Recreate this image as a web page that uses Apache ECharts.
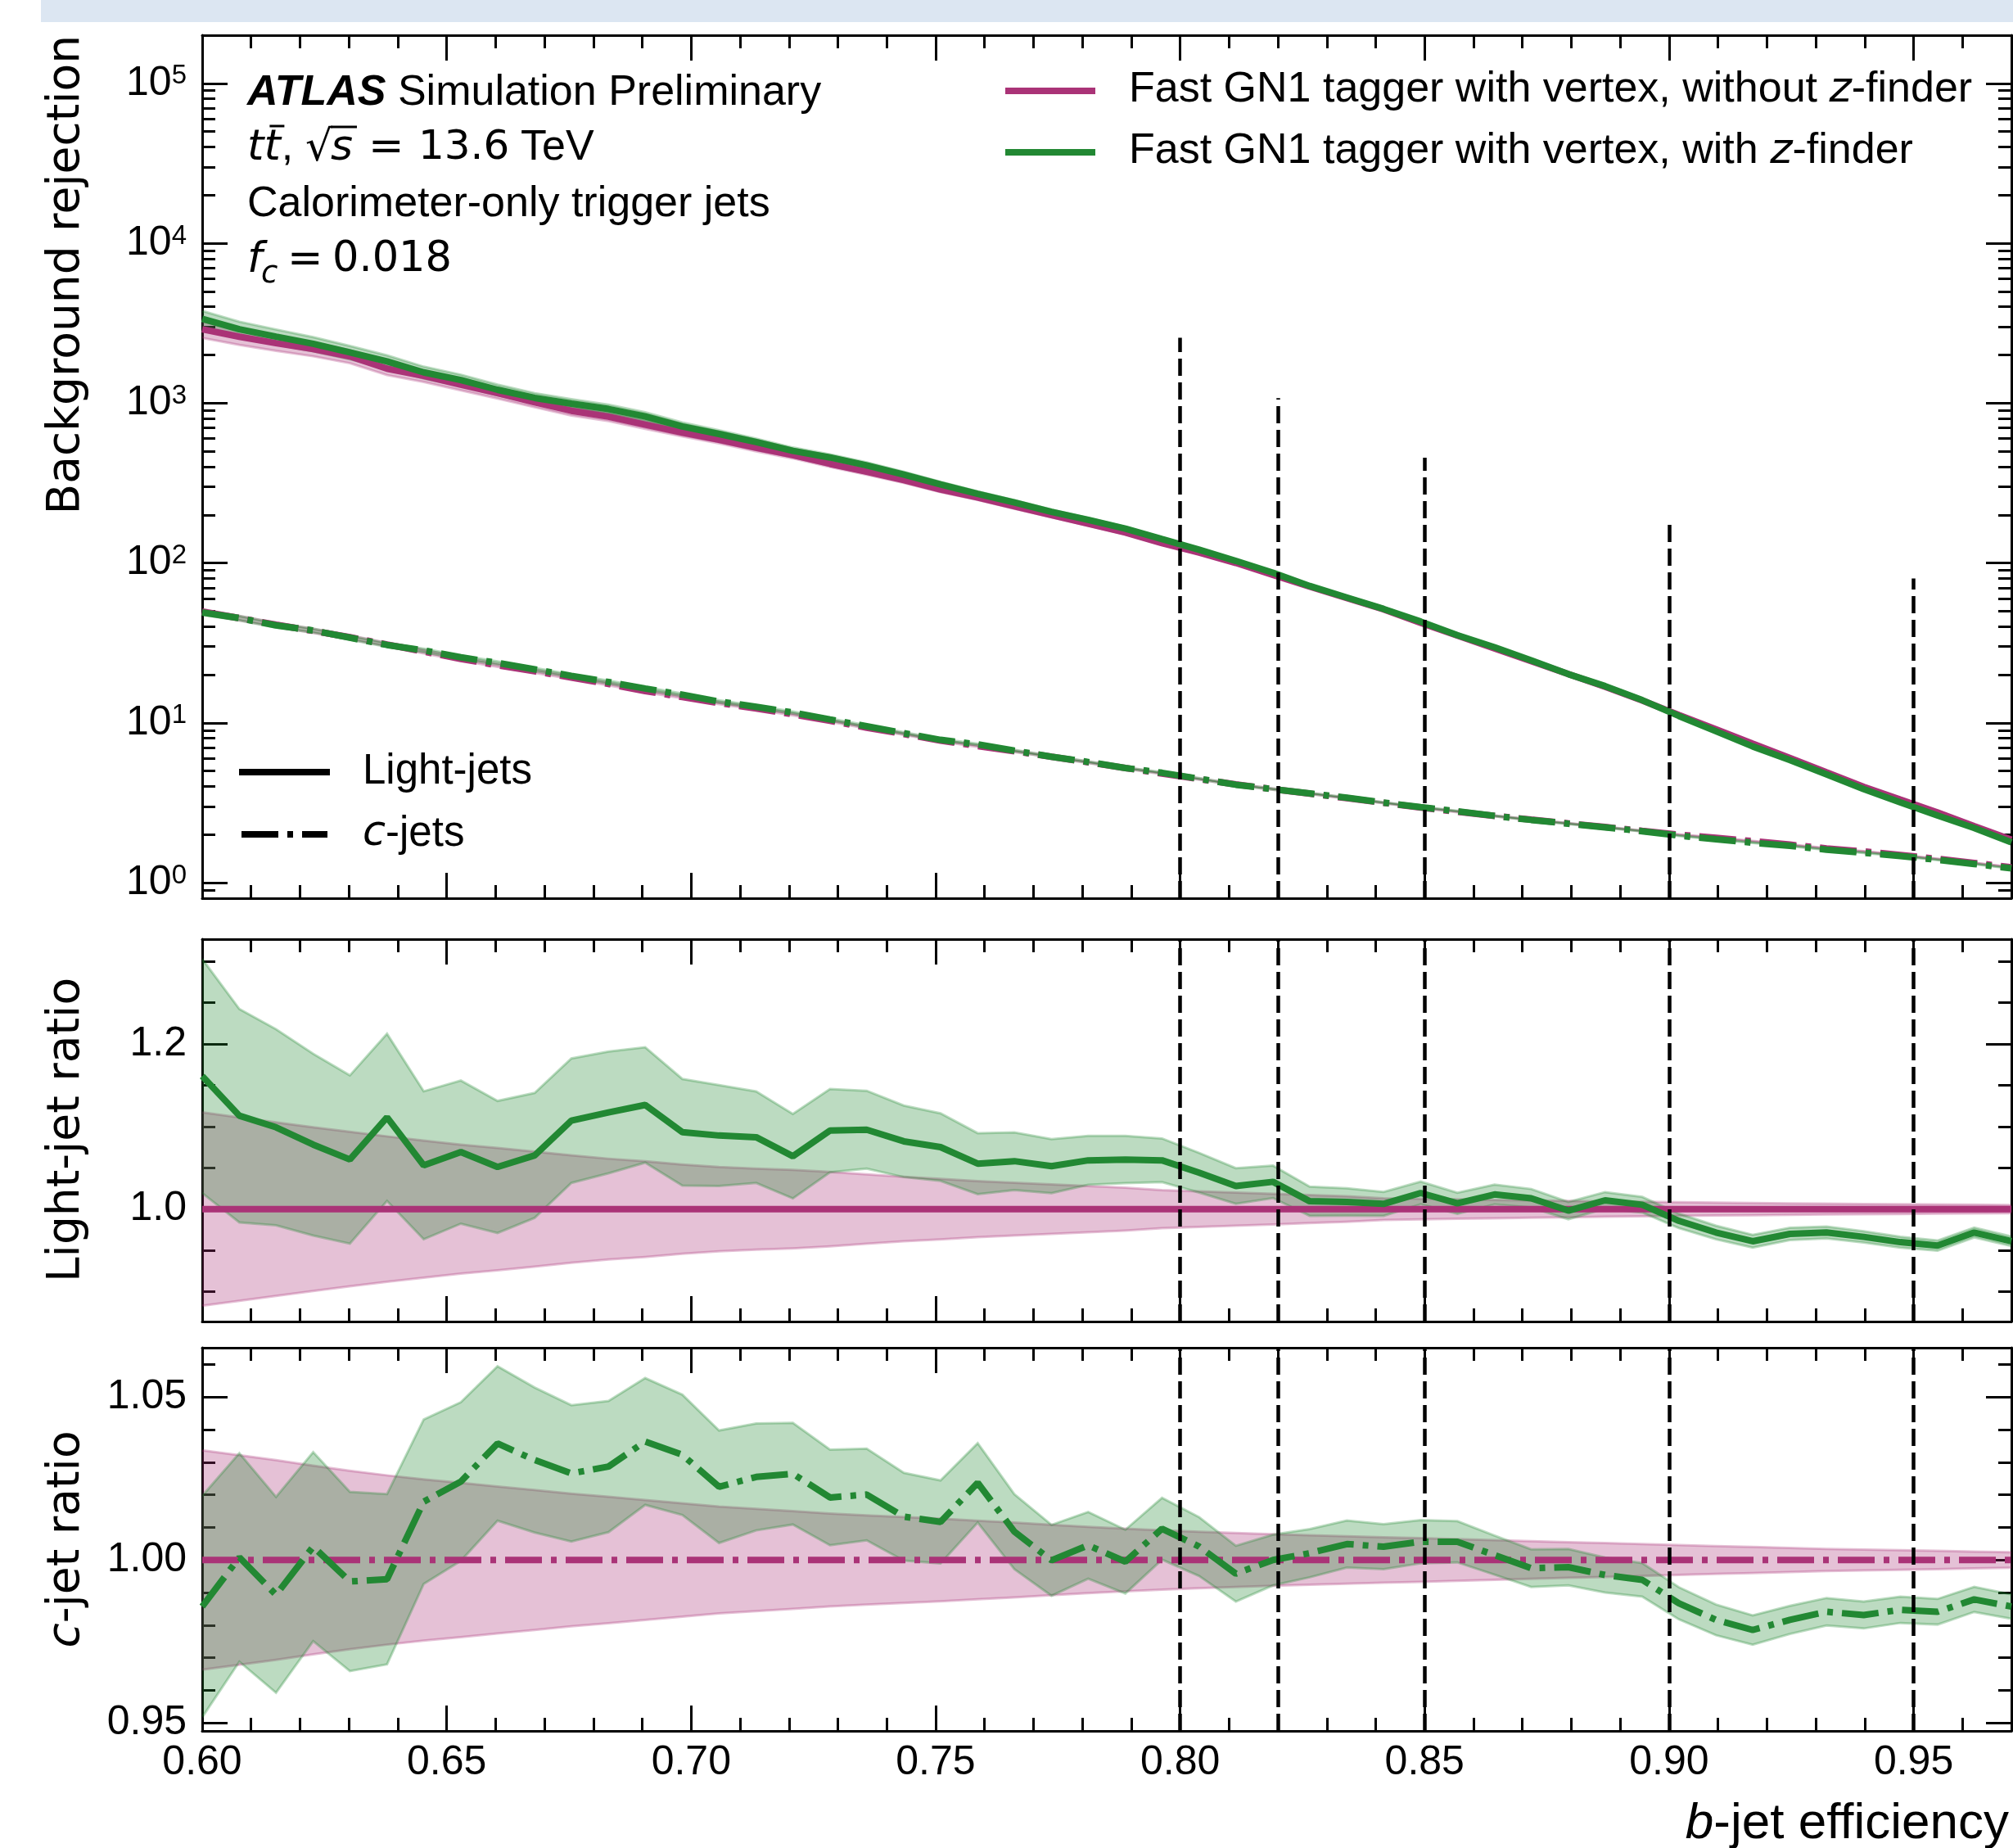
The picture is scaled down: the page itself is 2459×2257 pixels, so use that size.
<!DOCTYPE html>
<html><head><meta charset="utf-8">
<script src="https://cdn.jsdelivr.net/npm/echarts@6/dist/echarts.min.js"></script>
<style>html,body{margin:0;padding:0;background:#fff}#c{width:2459px;height:2257px}</style>
</head><body><div id="c"></div>
<script>
// ---------------- data ----------------
const effB = [0.6000,0.6076,0.6151,0.6227,0.6302,0.6378,0.6453,0.6529,0.6604,0.6680,
  0.6755,0.6831,0.6906,0.6982,0.7057,0.7133,0.7208,0.7284,0.7359,0.7435,
  0.7510,0.7586,0.7661,0.7737,0.7812,0.7888,0.7963,0.8039,0.8114,0.8190,
  0.8265,0.8341,0.8416,0.8492,0.8567,0.8643,0.8718,0.8794,0.8869,0.8945,
  0.9020,0.9096,0.9171,0.9247,0.9322,0.9398,0.9473,0.9549,0.9624,0.9700];
// light-jet rejection, without z-finder
const lightRejNoZ = [2897,2600,2371,2178,1959,1641,1479,1303,1153,1012,
  895,822,733,653,589,525,473,417,372,330,
  288,257,226,199,176,155,133,116,100,84.1,
  71.1,60.3,51.3,42.2,35.1,29.2,24.3,20.2,16.8,13.8,
  11.2,9.12,7.41,6.03,4.90,3.98,3.31,2.75,2.26,1.86];
// light-jet rejection, with z-finder
const lightRejZ = [3363,2894,2606,2348,2077,1823,1557,1393,1212,1078,
  991,918,825,714,641,571,503,457,408,357,
  310,271,239,209,186,164,141,121,103,86.9,
  71.8,60.8,51.6,43.0,35.35,29.7,24.6,20.16,16.98,13.87,
  11.04,8.86,7.12,5.85,4.76,3.85,3.18,2.63,2.20,1.79];
// c-jet rejection, without z-finder
const cRejNoZ = [49.7,45.2,41.1,37.6,34.3,30.9,27.9,25.1,22.9,21.0,
  19.2,17.5,15.8,14.5,13.3,12.3,11.3,10.3,9.33,8.51,
  7.74,7.16,6.64,6.14,5.66,5.22,4.82,4.45,4.12,3.85,
  3.61,3.38,3.16,2.95,2.78,2.62,2.48,2.35,2.23,2.11,
  2.00,1.91,1.82,1.73,1.64,1.57,1.49,1.41,1.33,1.25];
// c-jet rejection, with z-finder
const cRejZ = [49.0,45.2,40.7,37.8,34.1,30.7,28.4,25.7,23.7,21.6,
  19.7,18.0,16.4,15.0,13.6,12.6,11.6,10.5,9.52,8.62,
  7.83,7.33,6.70,6.14,5.69,5.22,4.87,4.47,4.10,3.85,
  3.62,3.40,3.17,2.97,2.80,2.62,2.47,2.34,2.22,2.10,
  1.97,1.87,1.78,1.70,1.61,1.54,1.47,1.39,1.31,1.23];
// ratio (with / without z-finder)
const lightRatioZ = [1.161,1.113,1.099,1.078,1.060,1.111,1.053,1.069,1.051,1.065,
  1.107,1.117,1.126,1.093,1.089,1.087,1.064,1.095,1.096,1.082,
  1.075,1.055,1.058,1.052,1.059,1.060,1.059,1.044,1.028,1.033,
  1.0095,1.0086,1.0063,1.0195,1.0071,1.0177,1.0131,0.9982,1.0106,1.0053,
  0.9858,0.9717,0.9611,0.9700,0.9717,0.9664,0.9600,0.9558,0.9717,0.9611];
const cRatioZ = [0.9857,1.0008,0.9893,1.0041,0.9934,0.9941,1.0179,1.0241,1.0358,1.0307,
  1.0266,1.0287,1.0364,1.0323,1.0225,1.0255,1.0265,1.0192,1.0201,1.0133,
  1.0117,1.0237,1.0087,0.9999,1.0045,0.9995,1.0096,1.0041,0.9958,1.0000,
  1.0021,1.0049,1.0041,1.0056,1.0056,1.0015,0.9975,0.9978,0.9954,0.9939,
  0.9867,0.9816,0.9785,0.9816,0.9841,0.9831,0.9847,0.9841,0.9879,0.9857];
// relative statistical uncertainties
const lightErrNoZ = [0.117,0.111,0.105,0.099,0.0935,0.088,0.083,0.078,0.074,0.0696,
  0.065,0.061,0.058,0.054,0.051,0.049,0.0475,0.045,0.042,0.039,
  0.0367,0.034,0.032,0.030,0.028,0.026,0.0231,0.0215,0.020,0.0185,
  0.017,0.0155,0.0132,0.0125,0.0118,0.0111,0.0105,0.0099,0.0093,0.0088,
  0.0083,0.0078,0.0074,0.0070,0.0066,0.0062,0.0059,0.0056,0.0053,0.0050];
const lightErrZ = [0.122,0.116,0.108,0.102,0.096,0.091,0.085,0.081,0.076,0.071,
  0.068,0.066,0.062,0.059,0.056,0.051,0.048,0.046,0.043,0.040,
  0.038,0.035,0.033,0.031,0.028,0.027,0.025,0.023,0.021,0.019,
  0.0175,0.0164,0.0144,0.0135,0.0127,0.0118,0.0111,0.0105,0.0099,0.0094,
  0.0089,0.0085,0.0081,0.0077,0.0074,0.0071,0.0068,0.0065,0.0062,0.0060];
const cErrNoZ = [0.0337,0.0322,0.0307,0.029,0.0274,0.026,0.0248,0.0237,0.0226,0.0215,
  0.0204,0.0194,0.0184,0.0174,0.0164,0.0157,0.015,0.0143,0.0137,0.0132,
  0.0127,0.0121,0.0115,0.0108,0.0102,0.0096,0.0091,0.0087,0.0083,0.0079,
  0.0076,0.0073,0.007,0.0067,0.0064,0.0061,0.0058,0.0055,0.0052,0.0049,
  0.0046,0.0043,0.004,0.0037,0.0034,0.0032,0.003,0.0028,0.0026,0.0024];
const cErrZ = [0.0345,0.032,0.0304,0.0289,0.0277,0.0263,0.0248,0.0238,0.0229,0.0216,
  0.0204,0.0196,0.0188,0.0179,0.0169,0.016,0.0152,0.0144,0.0138,0.0133,
  0.0126,0.0119,0.0114,0.0109,0.0102,0.0098,0.0094,0.009,0.0086,0.0078,
  0.0074,0.0072,0.0069,0.0066,0.0063,0.006,0.0058,0.0056,0.0054,0.0052,
  0.005,0.0048,0.0046,0.0044,0.0043,0.0042,0.0041,0.004,0.0039,0.0038];
// working points (vertical dashed lines) and their heights in the top panel
const wpEff = [0.80,0.82,0.85,0.90,0.95];
const wpTop = [2560,1075,455,187,80];
// tick values / labels
const effMajor = [0.60,0.65,0.70,0.75,0.80,0.85,0.90,0.95];
const effMinor = [0.60,0.61,0.62,0.63,0.64,0.65,0.66,0.67,0.68,0.69,0.70,0.71,0.72,0.73,0.74,0.75,0.76,0.77,0.78,0.79,
  0.80,0.81,0.82,0.83,0.84,0.85,0.86,0.87,0.88,0.89,0.90,0.91,0.92,0.93,0.94,0.95,0.96,0.97];
const rejTickExp = [0,1,2,3,4,5];
const lightRatioTicks = [1.0,1.2];
const lightRatioMinor = [0.90,0.95,1.05,1.10,1.15,1.25,1.30];
const cRatioTicks = [0.95,1.00,1.05];
const cRatioMinor = [0.96,0.97,0.98,0.99,1.01,1.02,1.03,1.04,1.06];

// ---------------- styling ----------------
const MAG = '#AA3377', GRN = '#228833';
const MAG_A = 'rgba(170,51,119,0.3)', GRN_A = 'rgba(34,136,51,0.3)';
const FONT = '"Liberation Sans", Arial, sans-serif';
const MFONT = '"DejaVu Sans", sans-serif';
const AX = {color:'#000', width:3};
const LW = 8;
const DASHDOT = [45,11,7,11];
const WPDASH = [21,8];
const L = Math.log10;

const topMinor = [];
for (let n=-1;n<=5;n++) for (let k=2;k<=9;k++){ const v=L(k*Math.pow(10,n)); if (v>=L(0.8)-1e-9 && v<=L(2e5)) topMinor.push(v); }

const grids = [
  {left:247, top:43, right:2, height:1054, outerBoundsMode:'none'},
  {left:247, top:1147, right:2, height:467, outerBoundsMode:'none'},
  {left:247, top:1646, right:2, height:468, outerBoundsMode:'none'}
];
const yDef = [
  {min:L(0.8), max:L(2e5), major:rejTickExp, minor:topMinor,
   fmt:v=>'{b|10}{e|'+Math.round(v)+'}',
   rich:{b:{fontSize:50,fontFamily:FONT,color:'#000',lineHeight:50,padding:[18,0,0,0],verticalAlign:'bottom'},
         e:{fontSize:33,fontFamily:FONT,color:'#000',lineHeight:33,verticalAlign:'top'}}},
  {min:0.864, max:1.3266, major:lightRatioTicks, minor:lightRatioMinor, fmt:v=>(+v).toFixed(1)},
  {min:0.9475, max:1.0652, major:cRatioTicks, minor:cRatioMinor, fmt:v=>(+v).toFixed(2)}
];

const xAxis = [], yAxis = [];
for (let g=0; g<3; g++){
  const xc = {gridIndex:g, type:'value', min:0.6, max:0.97, splitLine:{show:false}, minorTick:{show:false}};
  const mkX = (pos, vals, len, lab, line) => Object.assign({}, xc, {position:pos,
    axisLine:{show:line, onZero:false, lineStyle:AX},
    axisTick:{show:true, inside:true, length:len, customValues:vals, lineStyle:AX},
    axisLabel:{show:lab, customValues:vals, margin:14, color:'#000', fontSize:50, fontFamily:FONT,
               formatter:v=>(+v).toFixed(2)}});
  xAxis.push(mkX('bottom', effMajor, 31, g===2, true));
  xAxis.push(mkX('top', effMajor, 31, false, true));
  xAxis.push(mkX('bottom', effMinor, 16, false, false));
  xAxis.push(mkX('top', effMinor, 16, false, false));
  const d = yDef[g];
  const yc = {gridIndex:g, type:'value', min:d.min, max:d.max, splitLine:{show:false}, minorTick:{show:false}};
  const mkY = (pos, vals, len, lab, line) => Object.assign({}, yc, {position:pos,
    axisLine:{show:line, onZero:false, lineStyle:AX},
    axisTick:{show:true, inside:true, length:len, customValues:vals, lineStyle:AX},
    axisLabel:{show:lab, customValues:vals, margin:19, color:'#000', fontSize:50, fontFamily:FONT,
               formatter:d.fmt, rich:d.rich}});
  yAxis.push(mkY('left', d.major, 31, true, true));
  yAxis.push(mkY('right', d.major, 31, false, true));
  yAxis.push(mkY('left', d.minor, 16, false, false));
  yAxis.push(mkY('right', d.minor, 16, false, false));
}

const series = [];
// uncertainty band: filled polygon between lower and upper, drawn through the axis scales
function band(g, lower, upper, fill){
  series.push({type:'custom', xAxisIndex:4*g, yAxisIndex:4*g, silent:true, z:2, clip:true,
    data: effB.map((x,i)=>[x, lower[i], upper[i]]),
    encode:{x:0, y:[1,2]},
    renderItem: function(params, api){
      if (params.dataIndex !== 0) return null;
      const up = effB.map((x,i)=>api.coord([x, upper[i]]));
      const lo = effB.map((x,i)=>api.coord([x, lower[i]]));
      return {type:'group', children:[
        {type:'polygon', shape:{points: up.concat(lo.slice().reverse())}, style:{fill:fill, stroke:null}},
        {type:'polyline', shape:{points:up}, style:{stroke:fill, lineWidth:3, fill:null}},
        {type:'polyline', shape:{points:lo}, style:{stroke:fill, lineWidth:3, fill:null}}
      ]};
    }});
}
function line(g, vals, color, dash){
  series.push({type:'line', xAxisIndex:4*g, yAxisIndex:4*g, symbol:'none', showSymbol:false, silent:true,
    data: effB.map((x,i)=>[x, vals[i]]), lineStyle:{color:color, width:LW, type:dash||'solid', cap:'butt'}, z:3});
}
function wp(g, tops){
  const d = yDef[g];
  series.push({type:'line', xAxisIndex:4*g, yAxisIndex:4*g, symbol:'none', showSymbol:false, silent:true,
    data: wpEff.map(x=>[x, d.min]), lineStyle:{opacity:0}, z:6,
    markLine:{silent:true, symbol:['none','none'], label:{show:false}, animation:false,
      lineStyle:{color:'#000', width:4.5, type:WPDASH, opacity:1},
      data: wpEff.map((x,i)=>[{coord:[x, d.min]}, {coord:[x, tops ? L(tops[i]) : d.max]}])}});
}
// --- top panel (log10 of rejection on a value axis)
band(0, lightRejNoZ.map((v,i)=>L(v*(1-lightErrNoZ[i]))), lightRejNoZ.map((v,i)=>L(v*(1+lightErrNoZ[i]))), MAG_A);
band(0, cRejNoZ.map((v,i)=>L(v*(1-cErrNoZ[i]))), cRejNoZ.map((v,i)=>L(v*(1+cErrNoZ[i]))), MAG_A);
band(0, lightRejZ.map((v,i)=>L(v*(1-lightErrZ[i]))), lightRejZ.map((v,i)=>L(v*(1+lightErrZ[i]))), GRN_A);
band(0, cRejZ.map((v,i)=>L(v*(1-cErrZ[i]))), cRejZ.map((v,i)=>L(v*(1+cErrZ[i]))), GRN_A);
line(0, lightRejNoZ.map(L), MAG);
line(0, cRejNoZ.map(L), MAG, DASHDOT);
line(0, lightRejZ.map(L), GRN);
line(0, cRejZ.map(L), GRN, DASHDOT);
wp(0, wpTop);
// --- light-jet ratio panel
band(1, lightErrNoZ.map(e=>1-e), lightErrNoZ.map(e=>1+e), MAG_A);
band(1, lightRatioZ.map((r,i)=>r*(1-lightErrZ[i])), lightRatioZ.map((r,i)=>r*(1+lightErrZ[i])), GRN_A);
line(1, lightRejNoZ.map(v=>v/v), MAG);
line(1, lightRatioZ, GRN);
wp(1, null);
// --- c-jet ratio panel
band(2, cErrNoZ.map(e=>1-e), cErrNoZ.map(e=>1+e), MAG_A);
band(2, cRatioZ.map((r,i)=>r*(1-cErrZ[i])), cRatioZ.map((r,i)=>r*(1+cErrZ[i])), GRN_A);
line(2, cRejNoZ.map(v=>v/v), MAG, DASHDOT);
line(2, cRatioZ, GRN, DASHDOT);
wp(2, null);

// ---------------- annotations ----------------
const F = 52;
function T(x, y, text, o){
  o = o || {};
  return {type:'text', x:x, y:y, rotation:o.rot||0, z:50, silent:true,
    style:{text:text, fill:'#000', fontSize:o.size||F, fontFamily:o.fam||FONT, fontStyle:o.style||'normal',
      fontWeight:o.weight||'normal', align:o.align||'left', verticalAlign:o.va||'middle', rich:o.rich}};
}
function Ln(x1,y1,x2,y2,stroke,w,dash){
  return {type:'line', z:50, silent:true, shape:{x1,y1,x2,y2}, style:{stroke, lineWidth:w, lineDash:dash||null}};
}
const mctx = document.createElement('canvas').getContext('2d');
function tw(s, size, style, weight, fam){ mctx.font=(style||'normal')+' '+(weight||'normal')+' '+size+'px '+(fam||FONT); return mctx.measureText(s).width; }

const gr = [];
gr.push({type:'rect', z:0, silent:true, shape:{x:50,y:0,width:2409,height:27}, style:{fill:'#dce6f2'}});
// row 1
const x0 = 302;
gr.push(T(x0, 114, 'ATLAS', {style:'italic', weight:'bold'}));
gr.push(T(x0 + tw('ATLAS', F, 'italic', 'bold'), 114, ' Simulation Preliminary'));
// row 2 : t tbar, sqrt(s) = 13.6 TeV   (math parts in DejaVu Sans)
const r2 = 181;
const wt = tw('t', F, 'italic', 'normal', MFONT);
gr.push(T(x0, r2, 't', {style:'italic', fam:MFONT}));
gr.push(T(x0 + wt, r2, 't', {style:'italic', fam:MFONT}));
gr.push(Ln(x0 + wt + 7, r2 - 0.52*F, x0 + wt + 25, r2 - 0.52*F, '#000', 3));
gr.push(T(x0 + 2*wt + 1, r2, ','));
gr.push(T(373, r2 + 1, '\u221A', {fam:MFONT}));
gr.push(Ln(373 + tw('\u221A', F, 'normal', 'normal', MFONT) - 2, r2 - 0.5*F, 436, r2 - 0.5*F, '#000', 3));
gr.push(T(404, r2, 's', {style:'italic', fam:MFONT}));
gr.push(T(450, r2, '=', {fam:MFONT}));
gr.push(T(511, r2, '13.6', {fam:MFONT, size:50}));
gr.push(T(636, r2, 'TeV'));
// row 3
gr.push(T(x0, 250, 'Calorimeter-only trigger jets'));
// row 4 : f_c = 0.018
gr.push(T(x0, 318, 'f', {style:'italic', fam:MFONT}));
gr.push(T(x0 + 17, 335, 'c', {style:'italic', size:37, fam:MFONT}));
gr.push(T(351, 318, '=', {fam:MFONT}));
gr.push(T(406, 318, '0.018', {fam:MFONT, size:51}));
// tagger legend
const LR = {n:{fontSize:F, fontFamily:FONT, fontStyle:'normal', fill:'#000'}, i:{fontSize:F, fontFamily:MFONT, fontStyle:'italic', fill:'#000'}};
gr.push(Ln(1228, 111, 1338, 111, MAG, LW));
gr.push(T(1379, 110, '{n|Fast GN1 tagger with vertex, without }{i|z}{n|-finder}', {rich:LR}));
gr.push(Ln(1228, 186, 1338, 186, GRN, LW));
gr.push(T(1379, 185, '{n|Fast GN1 tagger with vertex, with }{i|z}{n|-finder}', {rich:LR}));
// flavour legend
const LR2 = {n:{fontSize:51, fontFamily:FONT, fontStyle:'normal', fill:'#000'}, i:{fontSize:51, fontFamily:MFONT, fontStyle:'italic', fill:'#000'}};
gr.push(Ln(292, 943, 403, 943, '#000', LW));
gr.push(T(443, 943, 'Light-jets', {size:51}));
gr.push(Ln(295, 1019, 400, 1019, '#000', LW, DASHDOT));
gr.push(T(443, 1019, '{i|c}{n|-jets}', {rich:LR2}));
// axis titles
const YR = {n:{fontSize:55, fontFamily:MFONT, fontStyle:'normal', fill:'#000'}, i:{fontSize:55, fontFamily:MFONT, fontStyle:'italic', fill:'#000'}};
gr.push(T(82, 43, 'Background rejection', {rot:Math.PI/2, align:'right', fam:MFONT, size:55}));
gr.push(T(82, 1380, 'Light-jet ratio', {rot:Math.PI/2, align:'center', fam:MFONT, size:55}));
gr.push(T(82, 1880, '{i|c}{n|-jet ratio}', {rot:Math.PI/2, align:'center', rich:YR}));
const XR = {n:{fontSize:62, fontFamily:FONT, fontStyle:'normal', fill:'#000'}, i:{fontSize:62, fontFamily:FONT, fontStyle:'italic', fill:'#000'}};
gr.push(T(2454, 2228, '{i|b}{n|-jet efficiency}', {align:'right', rich:XR}));

const chart = echarts.init(document.getElementById('c'), null, {renderer:'canvas', width:2459, height:2257});
chart.setOption({
  backgroundColor:'#fff', animation:false,
  grid: grids, xAxis: xAxis, yAxis: yAxis, series: series, graphic: gr
});
</script></body></html>
